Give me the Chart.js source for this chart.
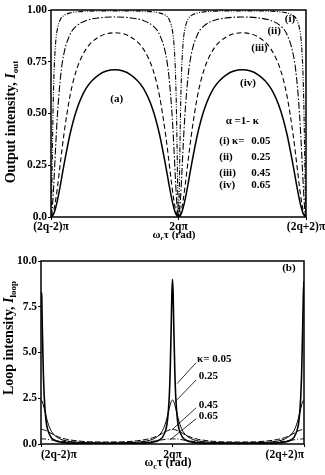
<!DOCTYPE html>
<html><head><meta charset="utf-8">
<script src="https://cdn.jsdelivr.net/npm/chart.js@4/dist/chart.umd.min.js"></script>
<style>
html,body{margin:0;padding:0;background:#fff;}
#wrap{position:relative;width:325px;height:475px;overflow:hidden;}
#topChart{position:absolute;left:0;top:0;}
#botChart{position:absolute;left:0;top:240px;}
</style></head><body>
<div id="wrap"><canvas id="topChart" width="325" height="240"></canvas><canvas id="botChart" width="325" height="235"></canvas></div>
<script>
// phase ωcτ in units of π (0 = 2qπ)
const phase = [-2,-1.99,-1.98,-1.965,-1.95,-1.925,-1.9,-1.85,-1.8,-1.7,-1.6,-1.45,-1.25,-1,
 -0.75,-0.55,-0.4,-0.3,-0.2,-0.15,-0.1,-0.075,-0.05,-0.035,-0.02,-0.01,0,
 0.01,0.02,0.035,0.05,0.075,0.1,0.15,0.2,0.3,0.4,0.55,0.75,1,
 1.25,1.45,1.6,1.7,1.8,1.85,1.9,1.925,1.95,1.965,1.98,1.99,2];

const xTickValues = [-2, 0, 2];
const xTickLabels = ['(2q-2)π', '2qπ', '(2q+2)π'];
const outTickValues = [0, 0.25, 0.5, 0.75, 1];
const outTickLabels = ['0.0', '0.25', '0.50', '0.75', '1.00'];
const loopTickValues = [0, 2.5, 5, 7.5, 10];
const loopTickLabels = ['0.0', '2.5', '5.0', '7.5', '10.0'];
const kappaLabels = ['0.05', '0.25', '0.45', '0.65'];
const romanLabels = ['(i)', '(ii)', '(iii)', '(iv)'];

// (a) output intensity
const outK005 = [0,0.093,0.290,0.555,0.717,0.850,0.908,0.956,0.973,0.986,0.991,0.994,0.995,0.995,
 0.995,0.994,0.991,0.986,0.973,0.956,0.908,0.850,0.717,0.555,0.290,0.093,0,
 0.093,0.290,0.555,0.717,0.850,0.908,0.956,0.973,0.986,0.991,0.994,0.995,0.995,
 0.995,0.994,0.991,0.986,0.973,0.956,0.908,0.850,0.717,0.555,0.290,0.093,0];
const outK025 = [0,0.010,0.038,0.107,0.196,0.352,0.490,0.679,0.785,0.883,0.923,0.949,0.962,0.966,
 0.962,0.949,0.923,0.883,0.785,0.679,0.490,0.352,0.196,0.107,0.038,0.010,0,
 0.010,0.038,0.107,0.196,0.352,0.490,0.679,0.785,0.883,0.923,0.949,0.962,0.966,
 0.962,0.949,0.923,0.883,0.785,0.679,0.490,0.352,0.196,0.107,0.038,0.010,0];
const outK045 = [0,0.002,0.007,0.020,0.040,0.085,0.141,0.269,0.393,0.588,0.711,0.811,0.870,0.890,
 0.870,0.811,0.711,0.588,0.393,0.269,0.141,0.085,0.040,0.020,0.007,0.002,0,
 0.002,0.007,0.020,0.040,0.085,0.141,0.269,0.393,0.588,0.711,0.811,0.870,0.890,
 0.870,0.811,0.711,0.588,0.393,0.269,0.141,0.085,0.040,0.020,0.007,0.002,0];
const outK065 = [0,0.001,0.003,0.011,0.021,0.047,0.079,0.159,0.246,0.402,0.516,0.621,0.687,0.711,
 0.687,0.621,0.516,0.402,0.246,0.159,0.079,0.047,0.021,0.011,0.003,0.001,0,
 0.001,0.003,0.011,0.021,0.047,0.079,0.159,0.246,0.402,0.516,0.621,0.687,0.711,
 0.687,0.621,0.516,0.402,0.246,0.159,0.079,0.047,0.021,0.011,0.003,0.001,0];

// (b) loop intensity
const loopK005 = [8.3,8.16,6.38,3.99,2.53,1.33,0.81,0.38,0.22,0.10,0.06,0.04,0.03,0.02,
 0.03,0.04,0.06,0.10,0.22,0.38,0.81,1.33,2.53,3.99,6.38,8.16,9.0,
 8.16,6.38,3.99,2.53,1.33,0.81,0.38,0.22,0.10,0.06,0.04,0.03,0.02,
 0.03,0.04,0.06,0.10,0.22,0.38,0.81,1.33,2.53,3.99,6.38,8.16,8.9];
const loopK025 = [2.40,2.38,2.31,2.14,1.93,1.55,1.21,0.75,0.50,0.26,0.16,0.10,0.07,0.06,
 0.07,0.10,0.16,0.26,0.50,0.75,1.21,1.55,1.93,2.14,2.31,2.38,2.40,
 2.38,2.31,2.14,1.93,1.55,1.21,0.75,0.50,0.26,0.16,0.10,0.07,0.06,
 0.07,0.10,0.16,0.26,0.50,0.75,1.21,1.55,1.93,2.14,2.31,2.38,2.40];
const loopK045 = [0.80,0.80,0.79,0.78,0.77,0.73,0.69,0.59,0.49,0.34,0.25,0.17,0.12,0.11,
 0.12,0.17,0.25,0.34,0.49,0.59,0.69,0.73,0.77,0.78,0.79,0.80,0.80,
 0.80,0.79,0.78,0.77,0.73,0.69,0.59,0.49,0.34,0.25,0.17,0.12,0.11,
 0.12,0.17,0.25,0.34,0.49,0.59,0.69,0.73,0.77,0.78,0.79,0.80,0.80];
const loopK065 = [0.28,0.28,0.28,0.28,0.27,0.27,0.26,0.23,0.20,0.15,0.12,0.08,0.06,0.06,
 0.06,0.08,0.12,0.15,0.20,0.23,0.26,0.27,0.27,0.28,0.28,0.28,0.28,
 0.28,0.28,0.28,0.27,0.27,0.26,0.23,0.20,0.15,0.12,0.08,0.06,0.06,
 0.06,0.08,0.12,0.15,0.20,0.23,0.26,0.27,0.27,0.28,0.28,0.28,0.28];

const FAM = 'Liberation Serif';
const fnt = (sz, style) => (style ? style + ' ' : '') + 'bold ' + sz + 'px "' + FAM + '"';

function drawRich(ctx, segs, x, y, rot) {
  ctx.save();
  ctx.translate(x, y);
  if (rot) ctx.rotate(rot);
  const widths = segs.map(s => { ctx.font = s.font; return ctx.measureText(s.t).width; });
  const total = widths.reduce((p, c) => p + c, 0);
  let cx = -total / 2;
  ctx.textAlign = 'left';
  ctx.textBaseline = 'alphabetic';
  ctx.fillStyle = '#000';
  segs.forEach((s, i) => { ctx.font = s.font; ctx.fillText(s.t, cx, s.dy || 0); cx += widths[i]; });
  ctx.restore();
}

function makeDecor(cfg) {
  return {
    id: 'decor',
    afterDatasetsDraw(chart) {
      const ctx = chart.ctx, a = chart.chartArea, xs = chart.scales.x, ys = chart.scales.y;
      ctx.save();
      ctx.strokeStyle = '#000';
      ctx.lineWidth = 1.5;
      ctx.strokeRect(a.left, a.top, a.right - a.left, a.bottom - a.top);
      ctx.fillStyle = '#000';
      cfg.texts.forEach(t => {
        ctx.font = fnt(t.size || 11);
        ctx.textAlign = t.align || 'center';
        ctx.textBaseline = 'middle';
        ctx.fillText(t.text, xs.getPixelForValue(t.x), ys.getPixelForValue(t.y));
      });
      ctx.lineWidth = 0.8;
      (cfg.leaders || []).forEach(l => {
        ctx.beginPath();
        ctx.moveTo(xs.getPixelForValue(l[0]), ys.getPixelForValue(l[1]));
        ctx.lineTo(xs.getPixelForValue(l[2]), ys.getPixelForValue(l[3]));
        ctx.stroke();
      });
      ctx.restore();
      drawRich(ctx, cfg.yTitle, cfg.yTitlePos[0], cfg.yTitlePos[1], -Math.PI / 2);
      drawRich(ctx, cfg.xTitle, cfg.xTitlePos[0], cfg.xTitlePos[1], 0);
    }
  };
}

const tickFont = { family: FAM, size: 11.5, weight: 'bold', lineHeight: 1.0 };
function axes(yVals, yLabels, yMax, yWidth, xHeight, xAlign, xPad) {
  return {
    x: {
      type: 'linear', min: -2, max: 2,
      afterBuildTicks: s => { s.ticks = xTickValues.map(v => ({ value: v })); },
      afterFit: s => { s.height = xHeight; s.paddingLeft = 0; s.paddingRight = 0; },
      ticks: { callback: (v, i) => xTickLabels[i], font: tickFont, color: '#000', padding: xPad, maxRotation: 0, autoSkip: false, align: xAlign },
      grid: { drawOnChartArea: false, tickLength: 3, color: '#000' },
      border: { display: false }
    },
    y: {
      type: 'linear', min: 0, max: yMax,
      afterBuildTicks: s => { s.ticks = yVals.map(v => ({ value: v })); },
      afterFit: s => { s.width = yWidth; },
      ticks: { callback: (v, i) => yLabels[i], font: tickFont, color: '#000', padding: 1, autoSkip: false },
      grid: { drawOnChartArea: false, tickLength: 3, color: '#000' },
      border: { display: false }
    }
  };
}

function ds(arr, width, dash) {
  return {
    data: phase.map((x, i) => ({ x: x, y: arr[i] })),
    borderColor: '#000', borderWidth: width, borderDash: dash,
    pointRadius: 0, fill: false, cubicInterpolationMode: 'monotone'
  };
}

const topTexts = [
  { text: romanLabels[0], x: 1.75, y: 0.954 },
  { text: romanLabels[1], x: 1.5, y: 0.896 },
  { text: romanLabels[2], x: 1.27, y: 0.818 },
  { text: romanLabels[3], x: 1.09, y: 0.648 },
  { text: '(a)', x: -0.97, y: 0.570 },
  { text: 'α =1- κ', x: 1.0, y: 0.464 },
  { text: romanLabels[0], x: 0.64, y: 0.367, align: 'left' },
  { text: 'κ=', x: 0.84, y: 0.367, align: 'left' },
  { text: kappaLabels[0], x: 1.14, y: 0.367, align: 'left' },
  { text: romanLabels[1], x: 0.64, y: 0.289, align: 'left' },
  { text: kappaLabels[1], x: 1.14, y: 0.289, align: 'left' },
  { text: romanLabels[2], x: 0.64, y: 0.211, align: 'left' },
  { text: kappaLabels[2], x: 1.14, y: 0.211, align: 'left' },
  { text: romanLabels[3], x: 0.64, y: 0.153, align: 'left' },
  { text: kappaLabels[3], x: 1.14, y: 0.153, align: 'left' }
];

new Chart(document.getElementById('topChart'), {
  type: 'line',
  data: { datasets: [
    ds(outK005, 1.1, [5, 1.5, 1, 1.5, 1, 1.5]),
    ds(outK025, 1.1, [7, 2, 1.5, 2]),
    ds(outK045, 1.1, [5, 3]),
    ds(outK065, 1.5, [])
  ] },
  options: {
    responsive: false, animation: false, devicePixelRatio: 1,
    layout: { padding: { top: 10, right: 19, left: 0, bottom: 0 } },
    plugins: { legend: { display: false }, tooltip: { enabled: false } },
    scales: axes(outTickValues, outTickLabels, 1, 51, 23, 'center', 1)
  },
  plugins: [makeDecor({
    texts: topTexts,
    yTitle: [{ t: 'Output intensity, ', font: fnt(14) }, { t: 'I', font: fnt(14, 'italic') }, { t: 'out', font: fnt(9), dy: 3 }],
    yTitlePos: [15, 122],
    xTitle: [{ t: 'ω', font: fnt(11) }, { t: 'c', font: fnt(7.5), dy: 2.5 }, { t: 'τ (rad)', font: fnt(11) }],
    xTitlePos: [174, 238]
  })]
});

const botTexts = [
  { text: '(b)', x: 1.77, y: 9.62 },
  { text: 'κ= ' + kappaLabels[0], x: 0.373, y: 4.62, align: 'left' },
  { text: kappaLabels[1], x: 0.40, y: 3.68, align: 'left' },
  { text: kappaLabels[2], x: 0.40, y: 2.14, align: 'left' },
  { text: kappaLabels[3], x: 0.40, y: 1.54, align: 'left' }
];
const botLeaders = [
  [0.36, 4.45, 0.07, 3.30],
  [0.36, 3.50, 0.04, 2.31],
  [0.36, 1.98, -0.01, 0.77],
  [0.36, 1.38, -0.04, 0.22]
];

new Chart(document.getElementById('botChart'), {
  type: 'line',
  data: { datasets: [
    ds(loopK005, 1.6, []),
    ds(loopK025, 1.0, []),
    ds(loopK045, 1.0, [6, 2]),
    ds(loopK065, 1.0, [5, 2, 1, 2])
  ] },
  options: {
    responsive: false, animation: false, devicePixelRatio: 1,
    layout: { padding: { top: 21, right: 21, left: 0, bottom: 0 } },
    plugins: { legend: { display: false }, tooltip: { enabled: false } },
    scales: axes(loopTickValues, loopTickLabels, 10, 41, 31, 'inner', 2)
  },
  plugins: [makeDecor({
    texts: botTexts,
    leaders: botLeaders,
    yTitle: [{ t: 'Loop intensity, ', font: fnt(14) }, { t: 'I', font: fnt(14, 'italic') }, { t: 'loop', font: fnt(9), dy: 3 }],
    yTitlePos: [13, 98],
    xTitle: [{ t: 'ω', font: fnt(12) }, { t: 'c', font: fnt(8), dy: 3 }, { t: 'τ (rad)', font: fnt(12) }],
    xTitlePos: [168, 226]
  })]
});
</script>
</body></html>
